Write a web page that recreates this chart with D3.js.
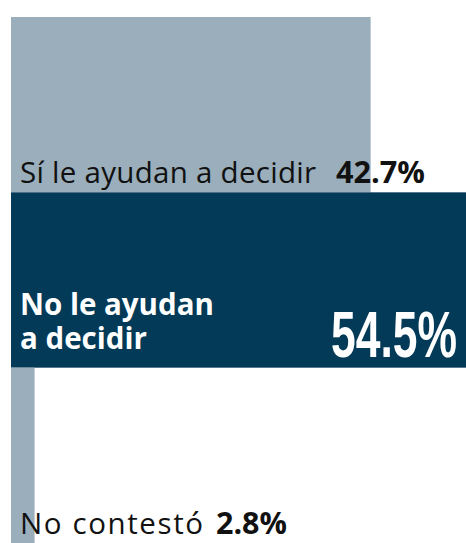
<html>
<head>
<meta charset="utf-8">
<style>
  body { margin: 0; background: #fff; }
  text { font-family: "Open Sans", sans-serif; }
</style>
</head>
<body>
<script src="https://cdn.jsdelivr.net/npm/d3@7"></script>
<script>
var width = 466, height = 543;

// data
var categories = ["si", "no", "nc"];
var labels = [["Sí le ayudan a decidir"], ["No le ayudan", "a decidir"], ["No contestó"]];
var values = [42.7, 54.5, 2.8];
var valueText = ["42.7%", "54.5%", "2.8%"];
var barColors = ["#9aaebb", "#023a57", "#9aaebb"];

var labelW = {si: 296, nc: 183};
var valueW = {si: 89, nc: 71};
var gapW = {si: 20, nc: 13};

var svg = d3.select("body").append("svg")
    .attr("width", width)
    .attr("height", height);

var x = d3.scaleLinear().domain([0, 54.5]).range([11, 470]);
var y = d3.scaleBand().domain(categories).range([17, 543]).padding(0);

var rows = categories.map((c, i) => ({c: c, v: values[i], lab: labels[i], vt: valueText[i], col: barColors[i], i: i}));

svg.append("g").selectAll("rect")
    .data(rows)
    .join("rect")
    .attr("x", x(0))
    .attr("y", d => y(d.c))
    .attr("width", d => Math.min(x(d.v), width) - x(0))
    .attr("height", y.bandwidth())
    .attr("fill", d => d.col);

// small rows: label + bold value on one line
var small = rows.filter(d => d.c != "no");
var g = svg.append("g").selectAll("g")
    .data(small)
    .join("g")
    .attr("transform", d => `translate(20,${y(d.c) + y.bandwidth() - 9.5})`);

g.append("text")
    .attr("font-size", 29.5)
    .attr("fill", "#111")
    .attr("textLength", d => labelW[d.c])
    .attr("lengthAdjust", "spacing")
    .text(d => d.lab[0]);

g.append("text")
    .attr("x", d => labelW[d.c] + gapW[d.c])
    .attr("font-size", 30.5)
    .attr("font-weight", "bold")
    .attr("fill", "#111")
    .attr("textLength", d => valueW[d.c])
    .attr("lengthAdjust", "spacingAndGlyphs")
    .text(d => d.vt);

// big row
var big = rows.filter(d => d.c == "no")[0];
var bottom = y(big.c) + y.bandwidth();
svg.append("g").selectAll("text")
    .data(big.lab)
    .join("text")
    .attr("x", 20)
    .attr("y", (d, i) => bottom - 19 - (big.lab.length - 1 - i) * 34)
    .attr("font-size", 29.5)
    .attr("font-weight", "bold")
    .attr("fill", "#fff")
    .text(d => d);

// condensed big number: squeeze horizontally to 126px
var bigNum = svg.append("text")
    .style("font-family", "'Liberation Sans Narrow', 'Liberation Sans', sans-serif")
    .attr("font-size", 65)
    .attr("font-weight", "bold")
    .attr("fill", "#fff")
    .text(big.vt);
var sx = 126 / bigNum.node().getComputedTextLength();
bigNum.attr("transform", `translate(331,${bottom - 11}) scale(${sx},1)`);
</script>
</body>
</html>
